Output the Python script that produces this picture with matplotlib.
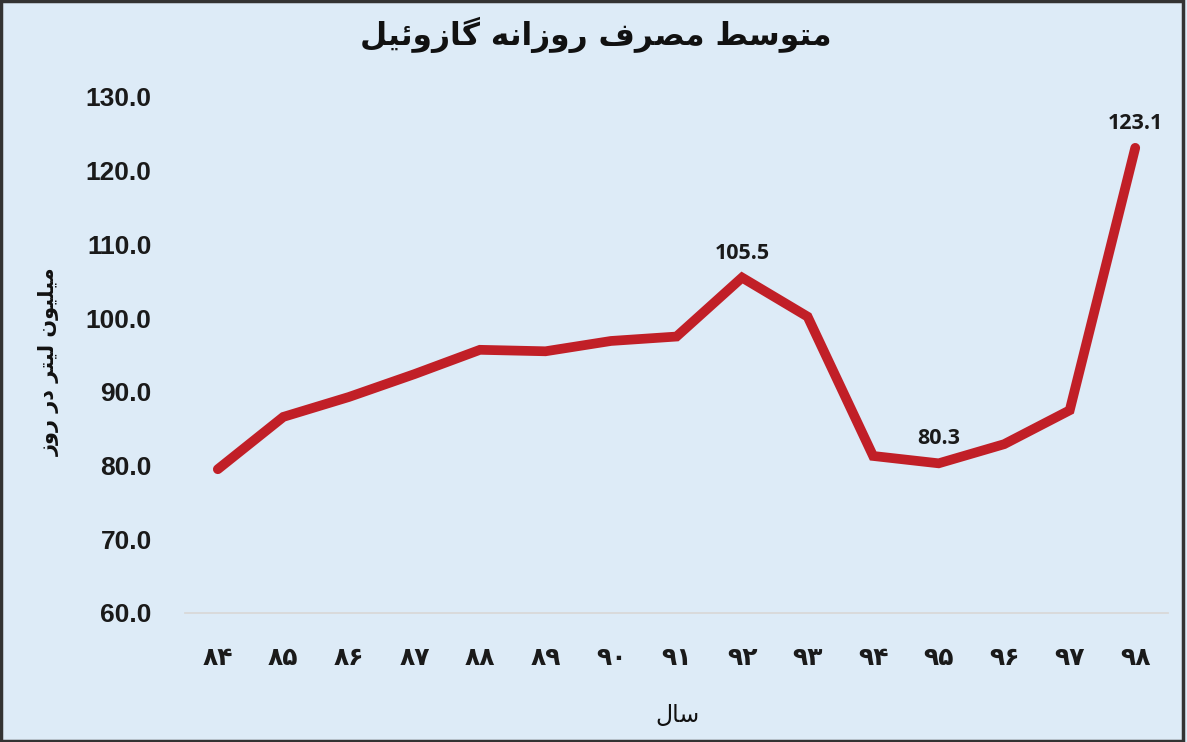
import matplotlib
matplotlib.use("Agg")
import matplotlib.pyplot as plt
from matplotlib.patches import Rectangle

# ---------------- data ----------------
years = ["۸۴", "۸۵", "۸۶", "۸۷", "۸۸", "۸۹", "۹۰", "۹۱", "۹۲", "۹۳", "۹۴", "۹۵", "۹۶", "۹۷", "۹۸"]
consumption = [79.5, 86.6, 89.3, 92.4, 95.7, 95.5, 96.9, 97.5, 105.5, 100.2, 81.3, 80.3, 82.9, 87.5, 123.1]
labelled_idx = [8, 11, 14]
yticks = [60, 70, 80, 90, 100, 110, 120, 130]
title = "متوسط مصرف روزانه گازوئیل"
ylabel = "میلیون لیتر در روز"
xlabel = "سال"

# ------------- minimal Persian shaping (presentation forms + RTL order) -------------
FORMS = {  # iso, fin, ini, med
    "ا": ("\uFE8D", "\uFE8E", None, None),
    "ت": ("\uFE95", "\uFE96", "\uFE97", "\uFE98"),
    "د": ("\uFEA9", "\uFEAA", None, None),
    "ر": ("\uFEAD", "\uFEAE", None, None),
    "ز": ("\uFEAF", "\uFEB0", None, None),
    "س": ("\uFEB1", "\uFEB2", "\uFEB3", "\uFEB4"),
    "ص": ("\uFEB9", "\uFEBA", "\uFEBB", "\uFEBC"),
    "ط": ("\uFEC1", "\uFEC2", "\uFEC3", "\uFEC4"),
    "ف": ("\uFED1", "\uFED2", "\uFED3", "\uFED4"),
    "ل": ("\uFEDD", "\uFEDE", "\uFEDF", "\uFEE0"),
    "م": ("\uFEE1", "\uFEE2", "\uFEE3", "\uFEE4"),
    "ن": ("\uFEE5", "\uFEE6", "\uFEE7", "\uFEE8"),
    "ه": ("\uFEE9", "\uFEEA", "\uFEEB", "\uFEEC"),
    "و": ("\uFEED", "\uFEEE", None, None),
    "ئ": ("\uFE89", "\uFE8A", "\uFE8B", "\uFE8C"),
    "ی": ("\uFBFC", "\uFBFD", "\uFBFE", "\uFBFF"),
    "گ": ("\uFB92", "\uFB93", "\uFB94", "\uFB95"),
}


def shape(text):
    out = []
    n = len(text)
    for i, ch in enumerate(text):
        if ch not in FORMS:
            out.append(ch)
            continue
        iso, fin, ini, med = FORMS[ch]
        prev = text[i - 1] if i > 0 else None
        nxt = text[i + 1] if i < n - 1 else None
        joins_prev = prev in FORMS and FORMS[prev][2] is not None
        joins_next = nxt in FORMS and ini is not None
        if joins_prev and joins_next:
            out.append(med)
        elif joins_prev:
            out.append(fin)
        elif joins_next:
            out.append(ini)
        else:
            out.append(iso)
    return "".join(reversed(out))


# ---------------- figure ----------------
BG = "#DDEBF7"
RED = "#C11F27"
fig = plt.figure(figsize=(11.87, 7.42), dpi=100, facecolor=BG)
ax = fig.add_axes([0.1559, 0.1739, 0.8281, 0.6954], facecolor=BG)

x = list(range(len(years)))
ax.plot(x, consumption, color=RED, lw=7, solid_joinstyle="miter", solid_capstyle="round", zorder=3)

ax.set_xlim(-0.5, len(years) - 0.5)
ax.set_ylim(60, 130)
ax.set_yticks(yticks)
ax.set_yticklabels([f"{v:.1f}" for v in yticks], fontfamily="Liberation Sans",
                   fontweight="bold", fontsize=19, color="#1a1a1a")
ax.set_xticks(x)
ax.set_xticklabels(years, fontfamily="DejaVu Sans", fontweight="bold", fontsize=18, color="#1a1a1a")
ax.tick_params(axis="y", length=0, pad=24)
ax.tick_params(axis="x", length=0, pad=24)

for s in ["top", "right", "left"]:
    ax.spines[s].set_visible(False)
ax.spines["bottom"].set_color("#D9D9D9")
ax.spines["bottom"].set_linewidth(1.3)

for i in labelled_idx:
    ax.annotate(f"{consumption[i]:.1f}", (x[i], consumption[i]), xytext=(0, 10), textcoords="offset points",
                ha="center", va="bottom", fontsize=15.5, fontweight="bold", fontfamily="Open Sans",
                color="#1a1a1a")

fig.text(0.502, 0.953, shape(title), ha="center", va="center", fontsize=22.5, fontweight="bold",
         fontfamily="DejaVu Sans", color="#111111")
fig.text(0.042, 0.513, shape(ylabel), ha="center", va="center", rotation=90, fontsize=15,
         fontweight="bold", fontfamily="DejaVu Sans", color="#111111")
fig.text(0.571, 0.036, shape(xlabel), ha="center", va="center", fontsize=17, fontfamily="DejaVu Sans",
         color="#111111")

fig.patches.append(Rectangle((0.001, 0.001), 0.996, 0.997, transform=fig.transFigure, fill=False,
                             edgecolor="#333333", lw=2.5))

fig.savefig("out.png", dpi=100, facecolor=BG)
